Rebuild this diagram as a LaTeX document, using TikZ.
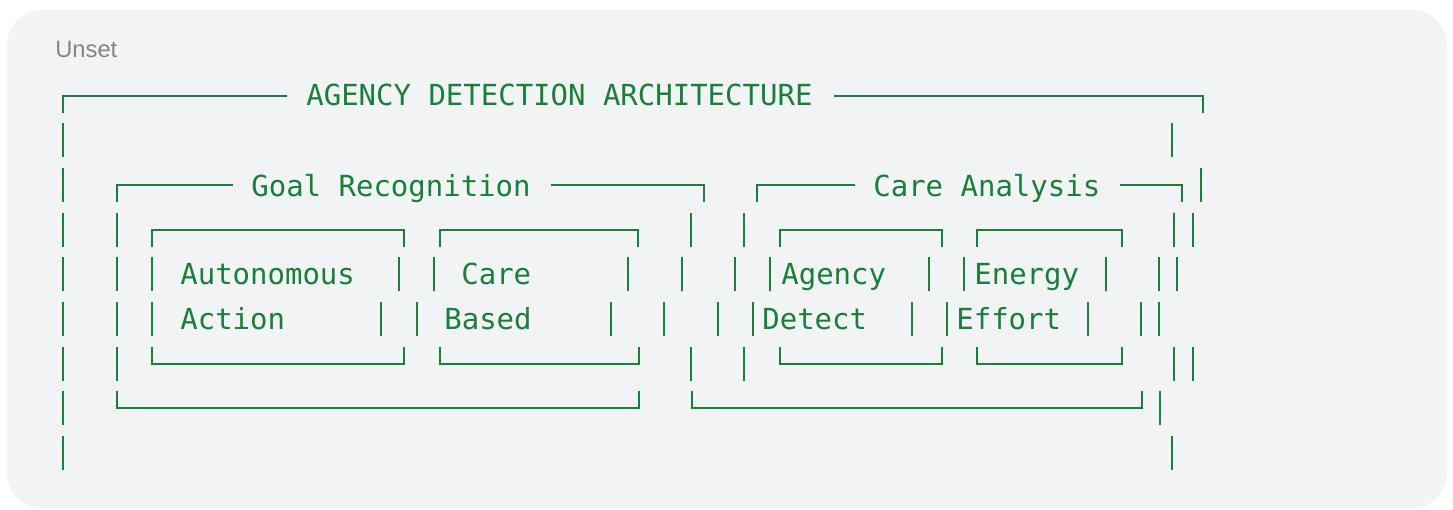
\documentclass[tikz,border=0pt]{standalone}
\usepackage{fontspec}
\setmainfont{Liberation Sans}
\newfontfamily\asciifont{DejaVu Sans Mono}
\usepackage{tikz}
\usetikzlibrary{positioning}

\definecolor{codegreen}{HTML}{188038}
\definecolor{panelgray}{HTML}{F1F3F4}
\definecolor{labelgray}{HTML}{80868B}

% one vertical bar of the text art: x, row centre
\newcommand{\vb}[2]{\draw[ascii] (#1,#2-17) -- (#1,#2+17);}

\begin{document}
\begin{tikzpicture}[x=0.02cm, y=-0.02cm,
    ascii/.style={draw=codegreen, line width=1.25pt},
    lbl/.style={anchor=base west, inner sep=0pt, text=codegreen,
        font=\asciifont\fontsize{16.5}{20}\selectfont}]

\useasboundingbox (0,0) rectangle (1453,510);
\fill[white] (0,0) rectangle (1453,510);
\fill[panelgray, rounded corners=20] (7,10) rectangle (1447,508);
\node[anchor=base west, inner sep=0pt, text=labelgray,
    font=\fontsize{13.5}{16}\selectfont] (unset) at (55,58) {Unset};

% Rahmen oben
\draw[ascii] (63,113) -- (63,96) -- (287,96);
\node[lbl] (title) at (306,106) {AGENCY DETECTION ARCHITECTURE};
\draw[ascii] (834,96) -- (1203,96) -- (1203,113);

% Zeile 1
\vb{63}{140} \vb{1172}{140}

% Zeile 2 - Gruppen
\vb{63}{185}
\draw[ascii] (117,202) -- (117,185) -- (233,185);
\node[lbl] (goal) at (251,196) {Goal Recognition};
\draw[ascii] (551,185) -- (704,185) -- (704,202);
\draw[ascii] (757,202) -- (757,185) -- (855,185);
\node[lbl] (care) at (873,196) {Care Analysis};
\draw[ascii] (1120,185) -- (1182,185) -- (1182,202);
\vb{1201}{185}

% Zeile 3 - innere Kästen oben
\vb{63}{230} \vb{117}{230}
\draw[ascii] (152,247) -- (152,230) -- (404,230) -- (404,247);
\draw[ascii] (440,247) -- (440,230) -- (638,230) -- (638,247);
\vb{691}{230} \vb{744}{230}
\draw[ascii] (780,247) -- (780,230) -- (942,230) -- (942,247);
\draw[ascii] (977,247) -- (977,230) -- (1122,230) -- (1122,247);
\vb{1174}{230} \vb{1193}{230}

% Zeile 4
\vb{63}{274} \vb{117}{274} \vb{152}{274}
\node[lbl] (auto) at (180,284) {Autonomous};
\vb{399}{274} \vb{434}{274}
\node[lbl] (careb) at (461,284) {Care};
\vb{628}{274} \vb{682}{274} \vb{735}{274} \vb{770}{274}
\node[lbl] (agency) at (781,284) {Agency};
\vb{929}{274} \vb{964}{274}
\node[lbl] (energy) at (974,284) {Energy};
\vb{1106}{274} \vb{1159}{274} \vb{1177}{274}

% Zeile 5
\vb{63}{319} \vb{117}{319} \vb{152}{319}
\node[lbl] (action) at (180,329) {Action};
\vb{381}{319} \vb{417}{319}
\node[lbl] (based) at (444,329) {Based};
\vb{611}{319} \vb{664}{319} \vb{718}{319} \vb{753}{319}
\node[lbl] (detect) at (762,329) {Detect};
\vb{912}{319} \vb{947}{319}
\node[lbl] (effort) at (956,329) {Effort};
\vb{1088}{319} \vb{1141}{319} \vb{1159}{319}

% Zeile 6 - innere Kästen unten
\vb{63}{364} \vb{117}{364}
\draw[ascii] (152,347) -- (152,364) -- (404,364) -- (404,347);
\draw[ascii] (440,347) -- (440,364) -- (639,364) -- (639,347);
\vb{691}{364} \vb{744}{364}
\draw[ascii] (780,347) -- (780,364) -- (942,364) -- (942,347);
\draw[ascii] (977,347) -- (977,364) -- (1122,364) -- (1122,347);
\vb{1174}{364} \vb{1193}{364}

% Zeile 7 - Gruppen unten
\vb{63}{408}
\draw[ascii] (117,391) -- (117,408) -- (639,408) -- (639,391);
\draw[ascii] (692,391) -- (692,408) -- (1142,408) -- (1142,391);
\vb{1160}{408}

% Zeile 8
\vb{63}{453} \vb{1172}{453}

\end{tikzpicture}
\end{document}
